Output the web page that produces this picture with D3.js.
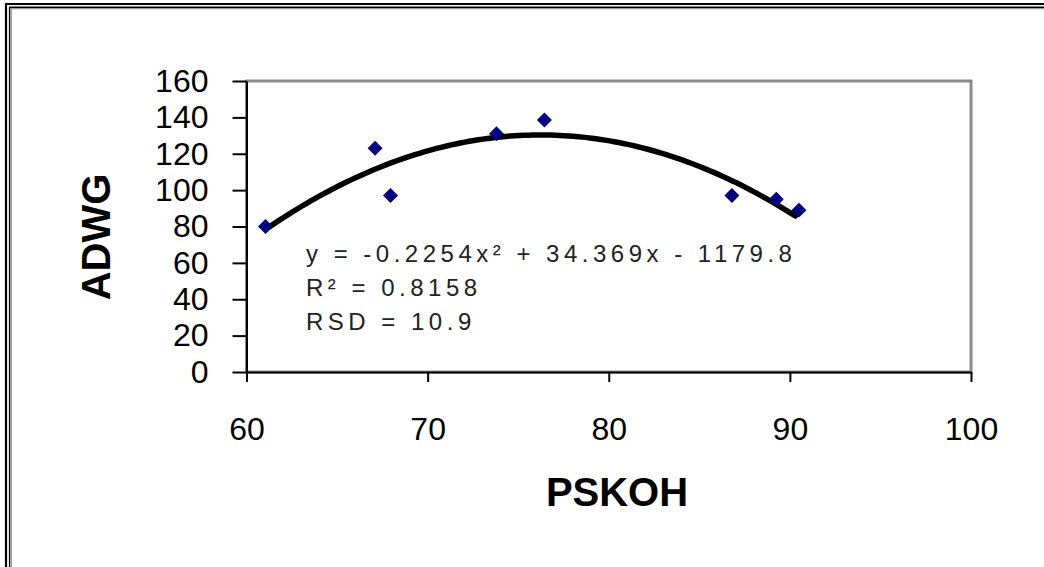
<!DOCTYPE html>
<html>
<head>
<meta charset="utf-8">
<script src="https://cdn.jsdelivr.net/npm/d3@7"></script>
<style>
  body { margin: 0; background: #fff; }
  svg { display: block; font-family: Arial, "Liberation Sans", sans-serif; }
</style>
</head>
<body>
<svg id="chart" width="1044" height="567"></svg>
<script>
// data
const pskoh = [61.05, 67.1, 67.95, 73.8, 76.45, 86.8, 89.25, 90.5]
const adwg = [80, 123, 97, 131, 138.5, 97, 95, 89]
const xTicks = [60, 70, 80, 90, 100]
const yTicks = [0, 20, 40, 60, 80, 100, 120, 140, 160]
const coef = [-0.2254, 34.369, -1179.8]
const fitLabels = ["y = -0.2254x\u00B2 + 34.369x - 1179.8", "R\u00B2 = 0.8158", "RSD = 10.9"]

const svg = d3.select("#chart")

//outer frame (double line top + left)
svg.append("path").attr("d", "M6,567V4H1044").attr("fill", "none")
  .attr("stroke", "#000").attr("stroke-width", 2.2)
svg.append("path").attr("d", "M9.6,567V7.2H1044").attr("fill", "none")
  .attr("stroke", "#000").attr("stroke-width", 1.4)
svg.append("path").attr("d", "M11.2,567V8.6H1044").attr("fill", "none")
  .attr("stroke", "#999").attr("stroke-width", 1.4)

const plotL = 246.5, plotR = 971, plotT = 81, plotB = 372

const x = d3.scaleLinear().domain([60, 100]).range([plotL, plotR])
const y = d3.scaleLinear().domain([0, 160]).range([plotB, plotT])

//plot border
svg.append("rect")
  .attr("x", plotL).attr("y", plotT)
  .attr("width", plotR - plotL).attr("height", plotB - plotT)
  .attr("fill", "none").attr("stroke", "#8c8c8c").attr("stroke-width", 3)

const yAxis = svg.append("g")
  .attr("transform", `translate(${plotL},0)`)
  .call(d3.axisLeft(y).tickValues(yTicks).tickSize(14).tickSizeOuter(0).tickPadding(24))
const xAxis = svg.append("g")
  .attr("transform", `translate(0,${plotB})`)
  .call(d3.axisBottom(x).tickValues(xTicks).tickSize(10).tickSizeOuter(0).tickPadding(35))

;[yAxis, xAxis].forEach(g => {
  g.select(".domain").attr("stroke", "#000").attr("stroke-width", 2)
  g.selectAll(".tick line").attr("stroke", "#000").attr("stroke-width", 2)
  g.selectAll(".tick text")
    .attr("fill", "#000")
    .style("font-size", "32px")
    .style("font-family", "Arial, 'Liberation Sans', sans-serif")
})

//trend line over the data range
const fit = v => coef[0] * v * v + coef[1] * v + coef[2]
const xs = d3.range(d3.min(pskoh), d3.max(pskoh) + 0.01, 0.25)
svg.append("path")
  .datum(xs)
  .attr("fill", "none")
  .attr("stroke", "#000")
  .attr("stroke-width", 5.5)
  .attr("stroke-linecap", "round")
  .attr("d", d3.line().x(d => x(d)).y(d => y(fit(d))))

//points
const pts = pskoh.map((v, i) => ({ x: v, y: adwg[i] }))
svg.append("g").selectAll("path")
  .data(pts)
  .enter()
  .append("path")
  .attr("d", d3.symbol(d3.symbolSquare, 112))
  .attr("transform", d => `translate(${x(d.x)},${y(d.y)}) rotate(45)`)
  .attr("fill", "#000080")

//fit annotation
svg.append("g").selectAll("text")
  .data(fitLabels)
  .enter()
  .append("text")
  .attr("x", 306)
  .attr("y", (d, i) => 262 + i * 34)
  .attr("fill", "#222")
  .style("font-size", "24px")
  .style("letter-spacing", "4.5px")
  .text(d => d)

//axis titles
svg.append("text")
  .attr("transform", "translate(110,237) rotate(-90)")
  .attr("text-anchor", "middle")
  .style("font-size", "40px")
  .style("font-weight", "bold")
  .text("ADWG")

svg.append("text")
  .attr("x", 617)
  .attr("y", 506)
  .attr("text-anchor", "middle")
  .style("font-size", "40px")
  .style("font-weight", "bold")
  .text("PSKOH")
</script>
</body>
</html>
